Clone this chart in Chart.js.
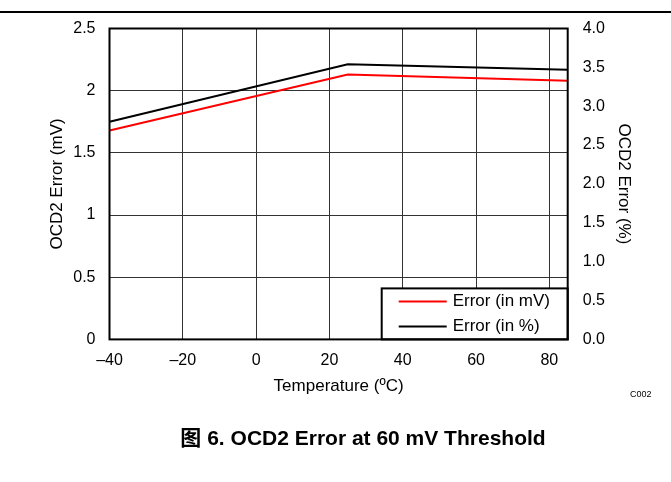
<!DOCTYPE html>
<html>
<head>
<meta charset="utf-8">
<script src="https://cdn.jsdelivr.net/npm/chart.js@4"></script>
<style>
  body { margin: 0; background: #fff; }
  #wrap { position: relative; width: 671px; height: 482px; }
  #rule { position: absolute; left: 0; top: 11px; width: 671px; height: 0; border-top: 2px solid #000; }
  #caption { position: absolute; left: 0; width: 726px; top: 421px; text-align: center;
    font: bold 21px "Liberation Sans", Arial, "Noto Sans CJK SC", sans-serif; color: #000; }
  #code { position: absolute; left: 630px; top: 389px; font: 9px "Liberation Sans", Arial, sans-serif; color: #000; }
</style>
</head>
<body>
<div id="wrap">
  <canvas id="lineChart" width="671" height="482"></canvas>
  <div id="rule"></div>
  <div id="code">C002</div>
  <div id="caption">图 6. OCD2 Error at 60 mV Threshold</div>
</div>
<script>
// temperature points (ºC)
var temps = [-40, 25, 85];
// error in mV (left axis)
var errMv = [1.68, 2.13, 2.08];
// error in % (right axis)
var errPct = [2.80, 3.54, 3.47];

var xTickValues = [-40, -20, 0, 20, 40, 60, 80];
var xTickLabels = ['–40', '–20', '0', '20', '40', '60', '80'];
var leftTicks = [0, 0.5, 1, 1.5, 2, 2.5];
var rightTicks = [0, 0.5, 1, 1.5, 2, 2.5, 3, 3.5, 4];

var fontFam = '"Liberation Sans", Arial, sans-serif';

// legend box inside bottom right corner + plot frame
var boxPlugin = {
  id: 'boxPlugin',
  afterDatasetsDraw: function (chart) {
    var ctx = chart.ctx, a = chart.chartArea;
    var w = 186, h = 51;
    var x0 = a.right - w, y0 = a.bottom - h;
    ctx.save();
    ctx.fillStyle = '#fff';
    ctx.fillRect(x0, y0, w, h);
    ctx.strokeStyle = '#000';
    ctx.lineWidth = 2;
    ctx.strokeRect(x0, y0, w, h);
    ctx.font = '17px ' + fontFam;
    ctx.textBaseline = 'middle';
    chart.data.datasets.forEach(function (ds, i) {
      var y = y0 + 13 + i * 25;
      ctx.strokeStyle = ds.borderColor;
      ctx.lineWidth = 2;
      ctx.beginPath();
      ctx.moveTo(x0 + 17, y);
      ctx.lineTo(x0 + 65, y);
      ctx.stroke();
      ctx.fillStyle = '#000';
      ctx.fillText(ds.label, x0 + 71, y);
    });
    ctx.restore();
  },
  afterDraw: function (chart) {
    var ctx = chart.ctx, a = chart.chartArea;
    ctx.save();
    ctx.strokeStyle = '#000';
    ctx.lineWidth = 2;
    ctx.strokeRect(a.left, a.top, a.right - a.left, a.bottom - a.top);
    ctx.restore();
  }
};

document.addEventListener('DOMContentLoaded', function () {
  var data = {
    labels: temps,
    datasets: [{
      label: 'Error (in mV)',
      borderColor: '#ff0000',
      borderWidth: 2,
      pointRadius: 0,
      data: temps.map(function (t, i) { return { x: t, y: errMv[i] }; }),
      yAxisID: 'y'
    }, {
      label: 'Error (in %)',
      borderColor: '#000000',
      borderWidth: 2,
      pointRadius: 0,
      data: temps.map(function (t, i) { return { x: t, y: errPct[i] }; }),
      yAxisID: 'y1'
    }]
  };

  var config = {
    type: 'line',
    data: data,
    plugins: [boxPlugin],
    options: {
      responsive: false,
      animation: false,
      layout: { padding: { top: 28.5, bottom: 85.6, left: 0, right: 0 } },
      plugins: { legend: { display: false }, tooltip: { enabled: false } },
      scales: {
        x: {
          type: 'linear',
          min: -40,
          max: 85,
          afterBuildTicks: function (s) { s.ticks = xTickValues.map(function (v) { return { value: v }; }); },
          afterFit: function (s) { s.height = 57; },
          grid: { color: '#333', lineWidth: 1, drawTicks: false },
          border: { display: false },
          ticks: {
            padding: 12,
            color: '#000',
            font: { size: 16, family: fontFam },
            callback: function (v) { return xTickLabels[xTickValues.indexOf(v)]; }
          },
          title: { display: true, text: 'Temperature (ºC)', color: '#000',
                   font: { size: 17, family: fontFam }, padding: { top: 0, bottom: 0 } }
        },
        y: {
          position: 'left',
          min: 0,
          max: 2.5,
          afterBuildTicks: function (s) { s.ticks = leftTicks.map(function (v) { return { value: v }; }); },
          afterFit: function (s) { s.width = 109.5; },
          grid: { color: '#333', lineWidth: 1, drawTicks: false },
          border: { display: false },
          ticks: {
            padding: 14, color: '#000', font: { size: 16, family: fontFam },
            callback: function (v) { return String(v); }
          },
          title: { display: true, text: 'OCD2 Error (mV)', color: '#000',
                   font: { size: 17, family: fontFam }, padding: { top: 46.8, bottom: 0 } }
        },
        y1: {
          position: 'right',
          min: 0,
          max: 4,
          afterBuildTicks: function (s) { s.ticks = rightTicks.map(function (v) { return { value: v }; }); },
          afterFit: function (s) { s.width = 103.3; },
          grid: { display: false, drawTicks: false },
          border: { display: false },
          ticks: {
            padding: 15, color: '#000', font: { size: 16, family: fontFam },
            callback: function (v) { return Number(v).toFixed(1); }
          },
          title: { display: true, text: 'OCD2 Error (%)', color: '#000',
                   font: { size: 17, family: fontFam }, padding: { top: 36.8, bottom: 0 } }
        }
      }
    }
  };

  var ctx = document.getElementById('lineChart').getContext('2d');
  new Chart(ctx, config);
});
</script>
</body>
</html>
